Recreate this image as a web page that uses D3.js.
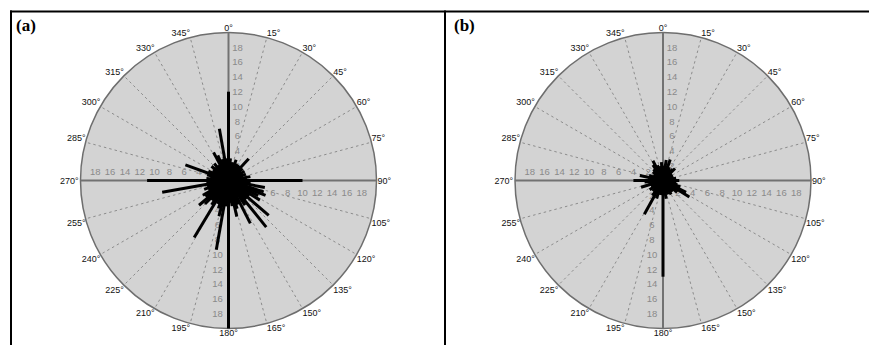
<!DOCTYPE html>
<html>
<head>
<meta charset="utf-8">
<script src="https://cdn.jsdelivr.net/npm/d3@7"></script>
<style>
  body { margin: 0; background: #fff; }
  svg { display: block; }
  .ang { font-family: "Liberation Sans", Arial, sans-serif; font-size: 9px; fill: #111; }
  .tick { font-family: "Liberation Sans", Arial, sans-serif; font-size: 9.5px; fill: #8a8a8a; }
  .panel { font-family: "Liberation Serif", "Times New Roman", serif; font-size: 17px; font-weight: bold; fill: #000; }
</style>
</head>
<body>
<svg width="869" height="345"></svg>
<script>
// bearing in degrees (0 = north, clockwise) and counts
const anglesA = [0, 5, 10, 15, 20, 25, 30, 35, 43, 50, 55, 60, 65, 70, 75, 80, 85,
  90, 95, 101, 108, 112, 117, 122, 126, 131, 136, 141, 146, 153, 158, 163, 167, 172, 176,
  180, 185, 190, 195, 200, 205, 211, 215, 220, 225, 230, 235, 240, 245, 250, 255, 260, 265,
  270, 275, 280, 285, 290, 295, 300, 305, 310, 315, 320, 325, 332, 337, 340, 345, 350, 355];
const valuesA = [12, 3, 2.5, 2.5, 3, 2.5, 2.5, 2.5, 4, 2.5, 2, 2.5, 2, 2.5, 2, 3, 2.5,
  10, 3, 5, 5, 5.4, 4.5, 5, 3.5, 7.2, 3.5, 8.1, 4, 6.5, 3.5, 4, 5, 3.5, 3,
  20, 3.5, 9.5, 5, 4, 3.5, 9, 4, 3.5, 4.5, 5.2, 3.8, 4, 3, 3.5, 3, 9.1, 3,
  11, 3, 2.5, 3, 6.2, 3, 2.5, 2.5, 3, 2.5, 3, 2.5, 4.3, 3.7, 3, 3, 7.1, 3];

const anglesB = [0, 5, 9, 15, 19, 25, 30, 35, 40, 45, 50, 60, 70, 80,
  90, 100, 105, 110, 117, 122, 130, 140, 150, 160, 170,
  180, 190, 200, 209, 215, 225, 235, 245, 253, 260, 265,
  270, 275, 282, 290, 300, 310, 320, 327, 333, 340, 350, 355];
const valuesB = [2, 1.5, 2.8, 2, 3, 2, 1.8, 1.5, 2, 2.3, 1.5, 1.5, 1.5, 1.8,
  2.2, 1.8, 2, 2.5, 3.5, 4.2, 2.5, 2, 2.2, 2, 2.5,
  13, 2, 2.6, 5.2, 2.5, 2, 2.2, 1.8, 3.1, 2, 2.5,
  4, 2, 3.2, 2, 1.5, 1.8, 2, 2.5, 3, 2.2, 2, 2.5];

const gridAngles = d3.range(0, 360, 15);
const tickValues = [2, 4, 6, 8, 10, 12, 14, 16, 18];
const panelLabels = ["(a)", "(b)"];

const svg = d3.select("svg");
const R = 148;
const r = d3.scaleLinear().domain([0, 20]).range([0, R]);
const rad = a => a * Math.PI / 180;

// frame
svg.append("line").attr("x1", 10).attr("x2", 869).attr("y1", 11.5).attr("y2", 11.5)
  .attr("stroke", "#000").attr("stroke-width", 2);
svg.append("line").attr("x1", 11).attr("x2", 11).attr("y1", 10.5).attr("y2", 345)
  .attr("stroke", "#000").attr("stroke-width", 2);
svg.append("line").attr("x1", 445).attr("x2", 445).attr("y1", 10.5).attr("y2", 345)
  .attr("stroke", "#000").attr("stroke-width", 2);

function drawRose(cx, cy, label, lx, angles, values) {
  const g = svg.append("g").attr("transform", `translate(${cx},${cy})`);

  svg.append("text").attr("class", "panel").attr("x", lx).attr("y", 31).text(label);

  g.append("circle").attr("r", R).attr("fill", "#d3d3d3")
    .attr("stroke", "#6e6e6e").attr("stroke-width", 1.5);

  // dashed spokes
  g.selectAll(".spoke").data(gridAngles.filter(a => a % 90 !== 0)).enter()
    .append("line")
    .attr("x2", a => R * Math.sin(rad(a)))
    .attr("y2", a => -R * Math.cos(rad(a)))
    .attr("stroke", "#8c8c8c").attr("stroke-width", 1)
    .attr("stroke-dasharray", "2.5,3");

  // main axes
  g.selectAll(".axis").data([0, 90, 180, 270]).enter()
    .append("line")
    .attr("x2", a => R * Math.sin(rad(a)))
    .attr("y2", a => -R * Math.cos(rad(a)))
    .attr("stroke", "#727272").attr("stroke-width", 2);

  // radial tick labels along the four axes
  const tickPos = [
    v => [9, -r(v)],
    v => [r(v), 12],
    v => [-11, r(v)],
    v => [-r(v), -9]
  ];
  tickPos.forEach(f => {
    g.selectAll(null).data(tickValues).enter()
      .append("text").attr("class", "tick")
      .attr("x", v => f(v)[0]).attr("y", v => f(v)[1])
      .attr("text-anchor", "middle").attr("dy", "0.35em")
      .text(v => v);
  });

  // angle labels around the circle
  g.selectAll(".ang").data(gridAngles).enter()
    .append("text").attr("class", "ang")
    .attr("x", a => R * Math.sin(rad(a)) + (a === 90 ? 1 : a === 270 ? -2 : 0))
    .attr("y", a => -R * Math.cos(rad(a)))
    .attr("text-anchor", a => (a === 0 || a === 180) ? "middle" : (a < 180 ? "start" : "end"))
    .attr("dy", a => (a === 90 || a === 270) ? "0.35em" : (a > 90 && a < 270 ? "0.85em" : "-0.15em"))
    .text(a => a + "°");

  // data spokes
  const data = angles.map((a, i) => ({ a, v: values[i] }));
  g.selectAll(".bar").data(data).enter()
    .append("line")
    .attr("x2", d => r(d.v) * Math.sin(rad(d.a)))
    .attr("y2", d => -r(d.v) * Math.cos(rad(d.a)))
    .attr("stroke", "#000").attr("stroke-width", 3);
}

drawRose(228.5, 180.5, panelLabels[0], 16, anglesA, valuesA);
drawRose(663, 180.5, panelLabels[1], 454, anglesB, valuesB);
</script>
</body>
</html>
